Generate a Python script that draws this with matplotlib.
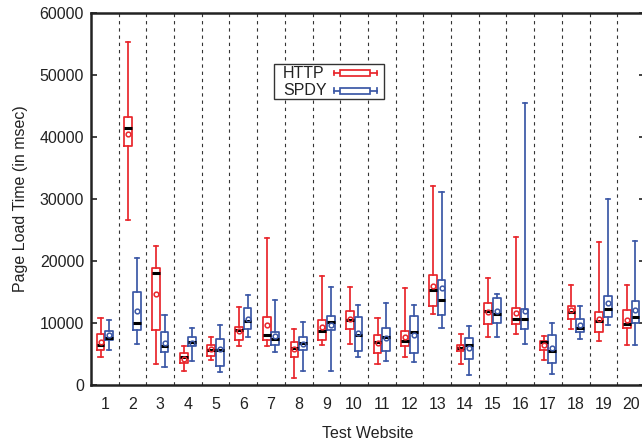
import matplotlib
matplotlib.use("Agg")
import matplotlib.pyplot as plt
from matplotlib.patches import Rectangle
from matplotlib.lines import Line2D

plt.rcParams["font.family"] = ["Liberation Sans", "DejaVu Sans"]

websites = list(range(1, 21))

# Page load time statistics per website (msec)
http_whislo = [4470, 26540, 3440, 2310, 4090, 6350, 6350, 1080, 6460, 6620,
               3340, 4570, 11520, 3340, 7700, 8190, 3990, 9100, 7110, 6410]
http_q1 = [5600, 38610, 8890, 3510, 4690, 7270, 7270, 4520, 7270, 9000,
           5120, 6250, 12760, 5490, 9800, 9800, 5650, 10710, 8610, 9160]
http_med = [6510, 41410, 17980, 4470, 5600, 8940, 8130, 6030, 8770, 10550,
            7000, 7160, 15350, 6030, 12000, 10710, 6950, 11740, 10290, 9900]
http_q3 = [8190, 43240, 18900, 5120, 6460, 9420, 10990, 6900, 10500, 11900,
           8030, 8770, 17660, 6460, 13250, 12490, 7160, 12710, 11790, 12170]
http_whishi = [10870, 55360, 22340, 6350, 7700, 12650, 23750, 9050, 17560, 15880,
               10820, 15560, 32100, 8290, 17240, 23800, 7970, 16200, 23050, 16160]
http_mean = [6950, 40440, 14650, 4150, 5820, 8720, 9690, 5860, 9320, 10710,
             6740, 7700, 15990, 6100, 11790, 11630, 6460, 12120, 10710, 10500]

spdy_whislo = [5700, 6620, 2910, 3880, 2150, 7700, 5380, 2310, 2310, 4570,
               3880, 3720, 9260, 1660, 7800, 6570, 1830, 7430, 9640, 6410]
spdy_q1 = [7320, 8890, 5280, 6350, 3120, 9050, 6460, 5650, 8840, 5490,
           5490, 5220, 11260, 4250, 9970, 9050, 3510, 8510, 10940, 9970]
spdy_med = [7640, 9970, 6350, 7000, 5600, 10290, 7380, 6830, 10230, 8080,
            7800, 8610, 13780, 6460, 11520, 10710, 5540, 9210, 12230, 10940]
spdy_q3 = [8720, 15020, 8510, 7800, 7480, 12490, 8560, 7700, 11100, 10940,
           9260, 11150, 16960, 7640, 14100, 12280, 8030, 10710, 14330, 13570]
spdy_whishi = [10550, 20470, 11310, 9210, 9690, 14540, 13730, 10180, 15880, 12970,
               13300, 12920, 31130, 9580, 14750, 45400, 10020, 12760, 29940, 23210]
spdy_mean = [8080, 11900, 6740, 6740, 5770, 10660, 7920, 6620, 9740, 8350,
             7640, 8080, 15670, 6030, 11950, 11950, 5980, 9640, 13250, 12120]

HTTP_COLOR = "#e8262c"
SPDY_COLOR = "#3b57a6"
TEXT_COLOR = "#222222"


def make_stats(lo, q1, med, q3, hi, mean):
    return [dict(whislo=a, q1=b, med=c, q3=d, whishi=e, mean=f, fliers=[])
            for a, b, c, d, e, f in zip(lo, q1, med, q3, hi, mean)]


fig = plt.figure(figsize=(6.42, 4.43), dpi=100)
ax = fig.add_axes([0.1417, 0.131, 0.8629, 0.8397])

# group separators
for k in websites[:-1]:
    ax.axvline(k + 0.5, color="#333333", lw=0.8, ls=(0, (3, 3.5)), zorder=1)


def draw(stats, color, offset):
    ax.bxp(stats, positions=[w + offset for w in websites], widths=0.28,
           capwidths=0.15, showmeans=True, showfliers=False,
           boxprops=dict(color=color, lw=1.25),
           whiskerprops=dict(color=color, lw=1.25),
           capprops=dict(color=color, lw=1.25),
           medianprops=dict(color="black", lw=2.2, solid_capstyle="butt"),
           meanprops=dict(marker="o", markersize=3.4, markerfacecolor="none",
                          markeredgecolor=color, markeredgewidth=1.1),
           manage_ticks=False, zorder=3)


draw(make_stats(http_whislo, http_q1, http_med, http_q3, http_whishi, http_mean),
     HTTP_COLOR, -0.155)
draw(make_stats(spdy_whislo, spdy_q1, spdy_med, spdy_q3, spdy_whishi, spdy_mean),
     SPDY_COLOR, 0.155)

ax.set_xlim(0.5, 20.5)
ax.set_ylim(0, 60000)
ax.set_xticks(websites)
ax.set_xticklabels([str(w) for w in websites])
ax.set_yticks(range(0, 60001, 10000))
ax.tick_params(axis="x", length=0, pad=9, labelsize=11.5, labelcolor=TEXT_COLOR)
ax.tick_params(axis="y", direction="in", length=4, width=1.2, right=True,
               pad=5, labelsize=11.5, labelcolor=TEXT_COLOR, color=TEXT_COLOR)
for sp in ax.spines.values():
    sp.set_linewidth(1.8)
    sp.set_color(TEXT_COLOR)

ax.set_xlabel("Test Website", fontsize=11.5, color=TEXT_COLOR, labelpad=10)
ax.set_ylabel("Page Load Time (in msec)", fontsize=11.5, color=TEXT_COLOR, labelpad=8)

# legend
tr = ax.transAxes
ax.add_patch(Rectangle((0.330, 0.768), 0.199, 0.095, transform=tr,
                       facecolor="white", edgecolor="#333333", lw=1.0, zorder=5))
for label, color, yc in (("HTTP", HTTP_COLOR, 0.838), ("SPDY", SPDY_COLOR, 0.791)):
    ax.text(0.347, yc, label, transform=tr, fontsize=11.5, color=TEXT_COLOR,
            va="center", ha="left", zorder=6)
    ax.add_line(Line2D([0.4386, 0.516], [yc, yc], transform=tr, color=color,
                       lw=1.25, zorder=6))
    for xc in (0.4386, 0.516):
        ax.add_line(Line2D([xc, xc], [yc - 0.006, yc + 0.006], transform=tr,
                           color=color, lw=1.25, zorder=6))
    ax.add_patch(Rectangle((0.449, yc - 0.008), 0.055, 0.016, transform=tr,
                           facecolor="white", edgecolor=color, lw=1.25, zorder=7))

fig.savefig("out.png", dpi=100)
